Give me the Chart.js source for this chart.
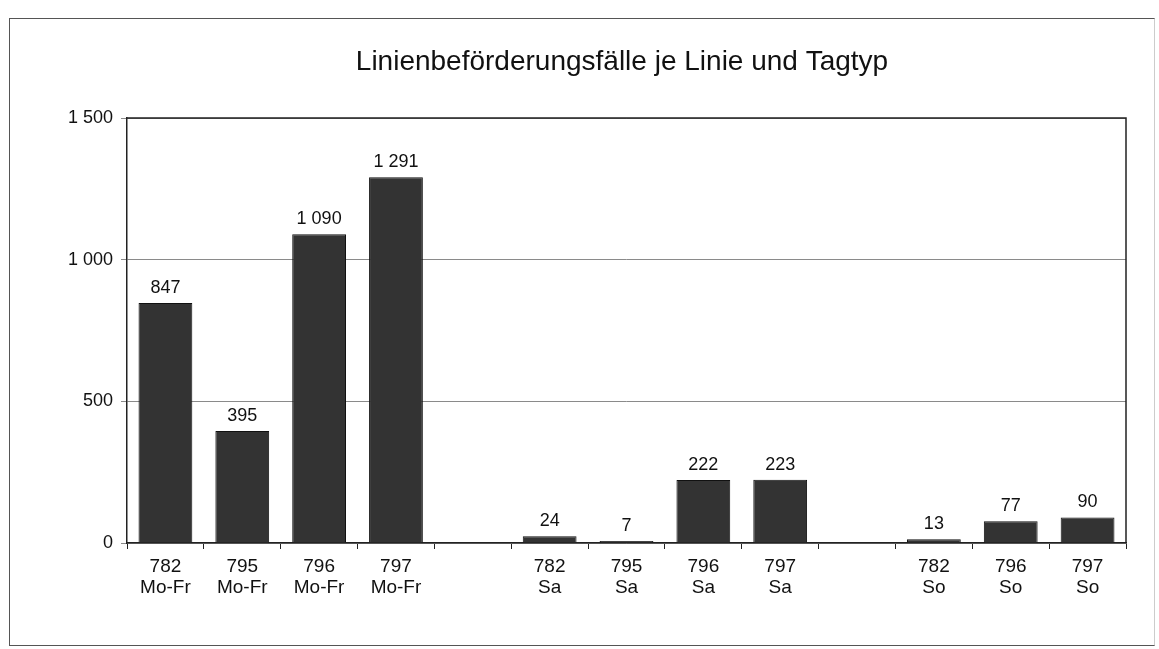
<!DOCTYPE html>
<html>
<head>
<meta charset="utf-8">
<script src="https://cdn.jsdelivr.net/npm/chart.js@4.4.1/dist/chart.umd.min.js"></script>
<style>
html,body{margin:0;padding:0;background:#fff;}
#wrap{position:relative;width:1159px;height:649px;}
#frame{position:absolute;left:9px;top:18px;width:1146px;height:628px;border:1.5px solid #555;border-right-color:#ccc;box-sizing:border-box;pointer-events:none;}
canvas{position:absolute;left:0;top:0;}
</style>
</head>
<body>
<div id="wrap">
<canvas id="c" width="1159" height="649"></canvas>
<div id="frame"></div>
</div>
<script>
const titleText = 'Linienbeförderungsfälle je Linie und Tagtyp';
const lineNumbers = ['782','795','796','797','','782','795','796','797','','782','796','797'];
const dayTypes    = ['Mo-Fr','Mo-Fr','Mo-Fr','Mo-Fr','','Sa','Sa','Sa','Sa','','So','So','So'];
const values      = [847, 395, 1090, 1291, null, 24, 7, 222, 223, null, 13, 77, 90];
const yTicks      = [0, 500, 1000, 1500];

function fmt(v){ return String(v).replace(/\B(?=(\d{3})+(?!\d))/g, ' '); }

const FONT = '"Liberation Sans", Arial, sans-serif';
const labels = lineNumbers.map((l,i)=> l ? [l, dayTypes[i]] : '');

const titlePlugin = {
  id:'titleText',
  afterDraw(chart){
    const {ctx} = chart;
    ctx.save();
    ctx.fillStyle = '#111';
    ctx.font = '28px ' + FONT;
    ctx.textAlign = 'center';
    ctx.textBaseline = 'middle';
    ctx.fillText(titleText, 622, 62);
    ctx.restore();
  }
};
const plotBorder = {
  id:'plotBorder',
  afterDraw(chart){
    const {ctx, chartArea:a} = chart;
    ctx.save();
    ctx.strokeStyle = '#222';
    ctx.lineWidth = 1.5;
    ctx.beginPath();
    ctx.moveTo(a.left, a.top); ctx.lineTo(a.right, a.top); ctx.lineTo(a.right, a.bottom);
    ctx.stroke();
    ctx.restore();
  }
};
const valueLabels = {
  id:'valueLabels',
  afterDatasetsDraw(chart){
    const {ctx} = chart;
    const meta = chart.getDatasetMeta(0);
    ctx.save();
    ctx.fillStyle = '#111';
    ctx.font = '18px ' + FONT;
    ctx.textAlign = 'center';
    ctx.textBaseline = 'bottom';
    meta.data.forEach((bar,i)=>{
      const v = values[i];
      if (v === null) return;
      ctx.fillText(fmt(v), bar.x, bar.y - 6);
    });
    ctx.restore();
  }
};

new Chart(document.getElementById('c'), {
  type:'bar',
  data:{
    labels,
    datasets:[{
      data: values,
      backgroundColor:'#333333',
      borderColor:'#111111',
      borderWidth:1,
      barPercentage:0.7,
      categoryPercentage:1.0
    }]
  },
  options:{
    responsive:false,
    animation:false,
    events:[],
    layout:{padding:{left:0,right:33,top:118,bottom:0}},
    plugins:{
      legend:{display:false},
      tooltip:{enabled:false},
      title:{display:false}
    },
    scales:{
      x:{
        offset:true,
        grid:{offset:true, drawOnChartArea:false, drawTicks:true, tickLength:6, color:'#222', lineWidth:1},
        border:{display:true, color:'#222', width:1.5},
        ticks:{color:'#111', font:{family:FONT, size:19, lineHeight:1.08}, padding:8, maxRotation:0, autoSkip:false},
        afterFit(s){ s.height = 106; }
      },
      y:{
        min:0, max:1500,
        afterBuildTicks(s){ s.ticks = yTicks.map(v=>({value:v})); },
        grid:{color:'#8a8a8a', lineWidth:1, drawTicks:true, tickLength:6},
        border:{display:true, color:'#222', width:1.5},
        ticks:{color:'#111', font:{family:FONT, size:18}, padding:8, callback:(v)=>fmt(v)},
        afterFit(s){ s.width = 127; }
      }
    }
  },
  plugins:[titlePlugin, plotBorder, valueLabels]
});
</script>
</body>
</html>
